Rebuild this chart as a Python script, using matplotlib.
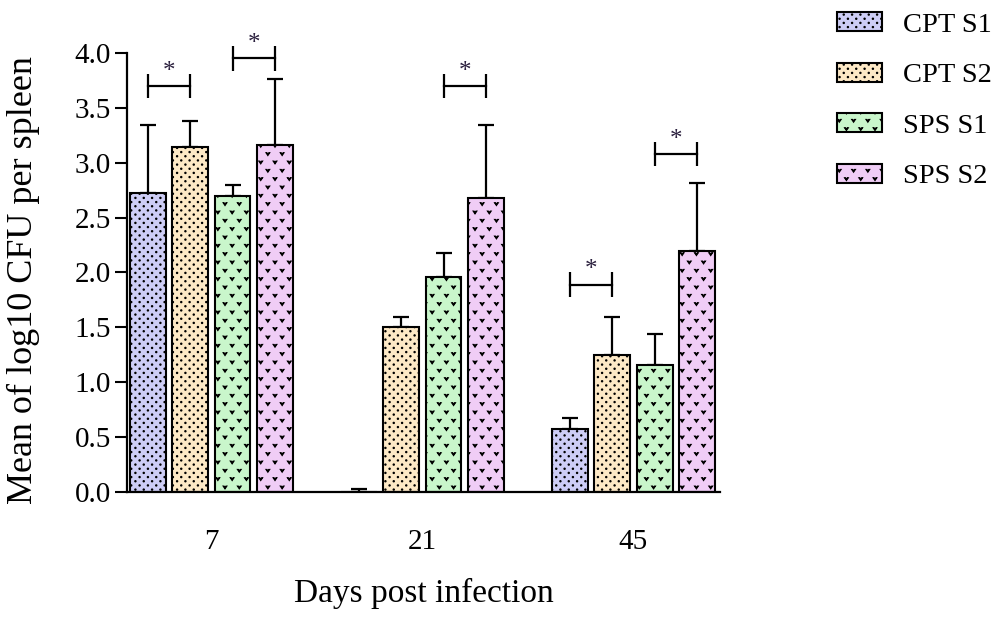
import numpy as np
import matplotlib
matplotlib.use('Agg')
import matplotlib.pyplot as plt
import matplotlib.hatch as mhatch
from matplotlib.path import Path

# Data: mean log10 CFU per spleen, upper error only
days = ['7', '21', '45']
series = ['CPT S1', 'CPT S2', 'SPS S1', 'SPS S2']
cpt_s1 = [2.72, 0.00, 0.57]
cpt_s2 = [3.14, 1.50, 1.25]
sps_s1 = [2.70, 1.96, 1.16]
sps_s2 = [3.16, 2.68, 2.20]
cpt_s1_err = [0.62, 0.03, 0.10]
cpt_s2_err = [0.24, 0.09, 0.34]
sps_s1_err = [0.10, 0.22, 0.28]
sps_s2_err = [0.60, 0.66, 0.62]
y_ticks = [0.0, 0.5, 1.0, 1.5, 2.0, 2.5, 3.0, 3.5, 4.0]

# significance brackets: (day index, series a, series b, height)
sig_day = [0, 0, 1, 2, 2]
sig_a = [0, 2, 2, 0, 2]
sig_b = [1, 3, 3, 1, 3]
sig_y = [3.70, 3.95, 3.70, 1.89, 3.08]

colors = ['#cdcdf6', '#fde9c6', '#c9f6cb', '#f0cdf6']


# custom hatches: staggered small dots ('.') and little v marks ('*')
class GridHatch(mhatch.HatchPatternBase):
    char = ''
    nrows = 1
    ncols = 1
    shape = np.zeros((1, 2))
    shape_codes = np.array([Path.MOVETO])

    def __init__(self, hatch, density):
        on = bool(hatch) and self.char in hatch
        self.num_vertices = self.nrows * self.ncols * len(self.shape) if on else 0

    def set_vertices_and_codes(self, vertices, codes):
        verts, cods = [], []
        for r in range(self.nrows):
            y = (r + 0.5) / self.nrows
            for c in range(self.ncols):
                x = (c + 0.25 + 0.5 * (r % 2)) / self.ncols
                verts.append(self.shape + [x, y])
                cods.append(self.shape_codes)
        vertices[:] = np.concatenate(verts)
        codes[:] = np.concatenate(cods)


class DotHatch(GridHatch):
    char = '.'
    nrows = 24
    ncols = 12
    shape = Path.unit_circle().vertices * 0.0065
    shape_codes = Path.unit_circle().codes


class VHatch(GridHatch):
    # small filled chevron
    char = '*'
    nrows = 12
    ncols = 7
    shape = np.array([[-0.019, 0.014], [-0.009, 0.014], [0.0, 0.0],
                      [0.009, 0.014], [0.019, 0.014], [0.0, -0.014],
                      [-0.019, 0.014]])
    shape_codes = np.array([Path.MOVETO] + [Path.LINETO] * 5 + [Path.CLOSEPOLY])


mhatch._hatch_types = [DotHatch, VHatch]
hatches = ['.', '.', '*', '*']

plt.rcParams['font.family'] = ['Liberation Serif', 'DejaVu Serif']
plt.rcParams['hatch.color'] = 'black'
plt.rcParams['hatch.linewidth'] = 0.8

values = [cpt_s1, cpt_s2, sps_s1, sps_s2]
errors = [cpt_s1_err, cpt_s2_err, sps_s1_err, sps_s2_err]

fig = plt.figure(figsize=(10, 6.2), dpi=100)
ax = fig.add_axes([0.127, 0.2065, 0.593, 0.708])

x = np.arange(len(days))
step = 0.2
width = 0.17
offsets = (np.arange(len(series)) - 1.5) * step

for i, name in enumerate(series):
    xs = x + offsets[i]
    ax.bar(xs, values[i], width, color=colors[i], edgecolor='black',
           linewidth=1.5, hatch=hatches[i], label=name, zorder=2)
    ax.errorbar(xs, values[i], yerr=[np.zeros(len(days)), errors[i]],
                fmt='none', ecolor='black', elinewidth=1.6, capsize=6,
                capthick=1.6, zorder=1)

for d, a, b, y in zip(sig_day, sig_a, sig_b, sig_y):
    x1 = x[d] + offsets[a]
    x2 = x[d] + offsets[b]
    ax.plot([x1, x2], [y, y], color='black', lw=1.6, clip_on=False)
    ax.vlines([x1, x2], y - 0.11, y + 0.11, color='black', lw=1.6, clip_on=False)
    ax.text((x1 + x2) / 2, y + 0.13, '*', ha='center', va='center',
            fontsize=18, color='#2a1f3d', clip_on=False)

ax.set_xlim(-0.40, 2.41)
ax.set_ylim(0, 4)
ax.set_yticks(y_ticks)
ax.set_yticklabels([f'{t:.1f}' for t in y_ticks], fontsize=21)
ax.set_xticks(x)
ax.set_xticklabels(days, fontsize=21)
ax.tick_params(axis='x', length=0, pad=27)
ax.tick_params(axis='y', length=8.5, width=1.5, pad=3)
for s in ['top', 'right']:
    ax.spines[s].set_visible(False)
for s in ['left', 'bottom']:
    ax.spines[s].set_linewidth(1.6)

ax.set_xlabel('Days post infection', fontsize=24, labelpad=16)
ax.set_ylabel('Mean of log10 CFU per spleen', fontsize=26)
ax.yaxis.set_label_coords(-0.147, 0.483)

fig.legend(loc='upper left', bbox_to_anchor=(0.826, 0.999), frameon=False,
           fontsize=20.5, handlelength=1.55, handleheight=0.65,
           handletextpad=0.75, labelspacing=0.88, borderaxespad=0)

fig.savefig('out.png', dpi=100)
